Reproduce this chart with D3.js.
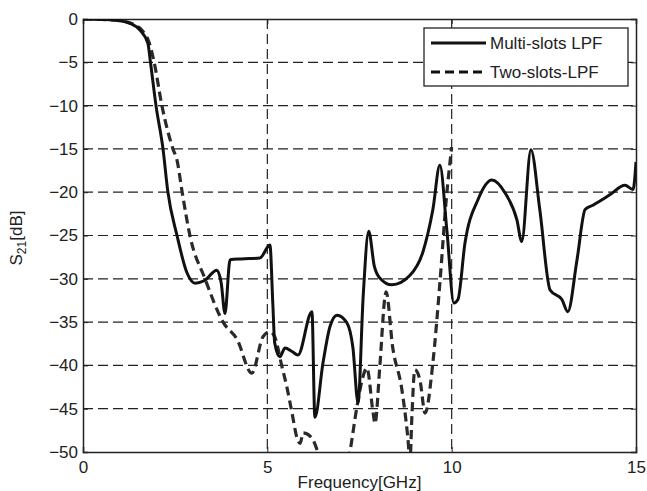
<!DOCTYPE html>
<html>
<head>
<meta charset="utf-8">
<script src="https://cdn.jsdelivr.net/npm/d3@7"></script>
<style>
	body{margin:0;background:#fff;}
	text{font-family:"Liberation Sans",Arial,sans-serif;fill:#222;}
</style>
</head>
<body>
<div id="chart"></div>
<script>
// S21 curves (GHz, dB)
var multiFreq = [0,0.5,1.0,1.27,1.55,1.76,1.83,1.98,2.17,2.3,2.55,2.82,3.04,3.3,3.63,3.75,3.85,3.99,4.3,4.8,5.07,5.15,5.2,5.34,5.48,5.67,5.83,6.21,6.29,6.51,6.7,6.89,7.16,7.32,7.46,7.6,7.75,7.9,8.05,8.38,8.87,9.22,9.49,9.68,9.87,10.06,10.17,10.36,10.71,11.09,11.45,11.77,11.9,12.15,12.39,12.67,12.99,13.15,13.4,13.62,13.83,14.29,14.7,14.92,15.0];
var multiS21 = [0,-0.05,-0.2,-0.5,-1.3,-2.8,-5,-10,-15,-19.9,-25,-29.3,-30.5,-30.2,-29,-30.5,-34,-27.8,-27.7,-27.6,-26.1,-33,-37.4,-39,-38,-38.4,-38.8,-33.8,-46,-39.7,-35.5,-34.2,-35.1,-37.9,-44.3,-32,-24.5,-28.5,-29.9,-30.7,-29.6,-26.9,-22,-16.9,-24.4,-32.8,-32.4,-25.9,-20.9,-18.6,-20.1,-23.2,-25.7,-15.1,-22,-31.3,-32.4,-33.8,-27.8,-22,-21.5,-20.3,-19.2,-19.7,-16.5];

var twoFreq = [0,0.5,1.0,1.3,1.6,1.8,1.93,2.14,2.44,2.55,2.69,2.9,3.31,3.8,4.18,4.58,4.88,5.07,5.2,5.4,5.53,5.67,5.8,5.89,5.97,6.21,6.37,6.6,7.0,7.24,7.43,7.57,7.7,7.87,7.92,8.05,8.19,8.22,8.4,8.65,8.81,8.87,8.92,9.0,9.14,9.28,9.49,9.68,9.85,10.0];
var twoS21 = [0,-0.05,-0.2,-0.5,-1.3,-2.8,-5,-10,-15,-16.3,-20,-25,-30,-35,-37,-40.9,-36.7,-36.1,-36.7,-40.2,-42.5,-45.5,-48.3,-49,-47.8,-48.4,-50,-53,-55,-50,-44.8,-41.7,-40.3,-45.5,-46.7,-40.2,-32.1,-31.5,-37.9,-42.8,-48.3,-51,-46,-40.5,-41.7,-45.5,-39.7,-30.5,-21,-14.8];

var seriesNames = ["Multi-slots LPF","Two-slots-LPF"];
var xTicks = [0,5,10,15];
var yTicks = [0,-5,-10,-15,-20,-25,-30,-35,-40,-45,-50];

var W = 647, H = 491;
var m = {left:83, right:11, top:19, bottom:39};
var iw = W - m.left - m.right, ih = H - m.top - m.bottom;

var svg = d3.select('#chart').append('svg')
			.attr('width',W)
			.attr('height',H);

var x = d3.scaleLinear().domain([0,15]).range([0,iw]);
var y = d3.scaleLinear().domain([-50,0]).range([ih,0]);

var g = svg.append('g').attr('transform','translate('+m.left+','+m.top+')');

svg.append('defs').append('clipPath').attr('id','clip')
	.append('rect').attr('width',iw).attr('height',ih);

// dashed grid
g.selectAll('line.gy').data(yTicks.filter(function(d){return d>-50 && d<0;}))
	.enter().append('line')
	.attr('class','gy')
	.attr('x1',0).attr('x2',iw)
	.attr('y1',function(d){return y(d);}).attr('y2',function(d){return y(d);})
	.attr('stroke','#222').attr('stroke-width',1.2).attr('stroke-dasharray','10,5');
g.selectAll('line.gx').data(xTicks.filter(function(d){return d>0 && d<15;}))
	.enter().append('line')
	.attr('class','gx')
	.attr('y1',0).attr('y2',ih)
	.attr('x1',function(d){return x(d);}).attr('x2',function(d){return x(d);})
	.attr('stroke','#222').attr('stroke-width',1.2).attr('stroke-dasharray','10,5');

// axes, matlab style with inner ticks on all sides
var axL = g.append('g').call(d3.axisLeft(y).tickValues(yTicks).tickSize(-5).tickPadding(7).tickFormat(d3.format('d')));
var axR = g.append('g').attr('transform','translate('+iw+',0)')
	.call(d3.axisRight(y).tickValues(yTicks).tickSize(-5).tickFormat(''));
var axB = g.append('g').attr('transform','translate(0,'+ih+')')
	.call(d3.axisBottom(x).tickValues(xTicks).tickSize(-5).tickPadding(9).tickFormat(d3.format('d')));
var axT = g.append('g').call(d3.axisTop(x).tickValues(xTicks).tickSize(-5).tickFormat(''));

[axL,axR,axB,axT].forEach(function(a){
	a.select('.domain').attr('stroke','#222').attr('stroke-width',1.5);
	a.selectAll('.tick line').attr('stroke','#222');
	a.selectAll('text').attr('font-size',17).attr('fill','#222')
		.style('font-family','"Liberation Sans",Arial,sans-serif');
});
axL.selectAll('text').attr('dx',2);

var line = d3.line()
	.curve(d3.curveMonotoneX)
	.x(function(d){return x(d[0]);})
	.y(function(d){return y(d[1]);});

var multiData = d3.zip(multiFreq,multiS21);
var twoData = d3.zip(twoFreq,twoS21);

var curves = g.append('g').attr('clip-path','url(#clip)');
curves.append('path').datum(twoData)
	.attr('d',line).attr('fill','none')
	.attr('stroke','#2a2a2a').attr('stroke-width',3.2)
	.attr('stroke-dasharray','9,5').attr('stroke-linejoin','round');
curves.append('path').datum(multiData)
	.attr('d',line).attr('fill','none')
	.attr('stroke','#111').attr('stroke-width',3)
	.attr('stroke-linejoin','round');

// legend
var lg = svg.append('g').attr('transform','translate(424,28)');
lg.append('rect').attr('width',204).attr('height',58)
	.attr('fill','#fff').attr('stroke','#222').attr('stroke-width',1.3);
seriesNames.forEach(function(name,i){
	var yy = 15 + i*29;
	lg.append('line').attr('x1',7).attr('x2',62).attr('y1',yy).attr('y2',yy)
		.attr('stroke','#111').attr('stroke-width',3.2)
		.attr('stroke-dasharray',i==1?'9,5':null);
	lg.append('text').attr('x',66).attr('y',yy+6).attr('font-size',17).text(name);
});

// axis titles
svg.append('text').attr('x',m.left+x(7.5)).attr('y',488)
	.attr('text-anchor','middle').attr('font-size',17).text('Frequency[GHz]');

var yl = svg.append('text')
	.attr('transform','translate(22,238) rotate(-90)')
	.attr('text-anchor','middle').attr('font-size',17);
yl.append('tspan').text('S');
yl.append('tspan').attr('font-size',12).attr('dy',4).text('21');
yl.append('tspan').attr('dy',-4).text('[dB]');
</script>
</body>
</html>
